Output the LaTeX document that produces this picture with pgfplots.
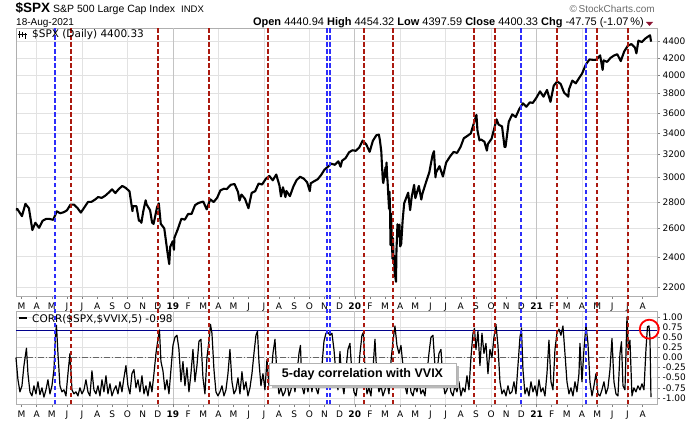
\documentclass[border=0pt]{standalone}
\usepackage{pgfplots}
\pgfplotsset{compat=1.18}
\usepackage{pgfplotstable}
\usepackage{fontspec}
\setmainfont{Liberation Sans}
\newfontfamily\dv{DejaVu Sans}
\definecolor{vred}{RGB}{170,25,15}
\definecolor{vblue}{RGB}{45,45,250}
\definecolor{navyl}{RGB}{0,0,140}
\definecolor{gridc}{RGB}{226,226,226}
\definecolor{yrgrid}{RGB}{195,195,195}
\definecolor{borderc}{RGB}{175,175,175}
\definecolor{hdrred}{RGB}{140,20,50}

\pgfplotstableread{
Y M D C
2018 2 16 2732
2018 2 23 2747
2018 3 2 2691
2018 3 9 2786
2018 3 16 2752
2018 3 23 2588
2018 3 29 2641
2018 4 6 2604
2018 4 13 2656
2018 4 20 2670
2018 4 27 2670
2018 5 4 2663
2018 5 11 2728
2018 5 18 2713
2018 5 25 2721
2018 6 1 2735
2018 6 8 2779
2018 6 15 2780
2018 6 22 2755
2018 6 29 2718
2018 7 6 2760
2018 7 13 2801
2018 7 20 2802
2018 7 27 2819
2018 8 3 2840
2018 8 10 2833
2018 8 17 2850
2018 8 24 2875
2018 8 31 2902
2018 9 7 2872
2018 9 14 2905
2018 9 21 2930
2018 9 28 2914
2018 10 5 2886
2018 10 11 2729
2018 10 12 2767
2018 10 19 2768
2018 10 24 2656
2018 10 26 2659
2018 10 29 2641
2018 11 2 2723
2018 11 7 2814
2018 11 9 2781
2018 11 16 2736
2018 11 20 2642
2018 11 23 2633
2018 11 30 2760
2018 12 3 2790
2018 12 7 2633
2018 12 14 2600
2018 12 21 2417
2018 12 24 2351
2018 12 26 2468
2018 12 31 2507
2019 1 3 2448
2019 1 4 2532
2019 1 11 2596
2019 1 18 2671
2019 1 25 2665
2019 2 1 2707
2019 2 8 2708
2019 2 15 2776
2019 2 22 2793
2019 3 1 2804
2019 3 8 2743
2019 3 15 2822
2019 3 22 2800
2019 3 29 2834
2019 4 5 2893
2019 4 12 2907
2019 4 18 2905
2019 4 26 2940
2019 5 3 2946
2019 5 10 2881
2019 5 13 2812
2019 5 17 2860
2019 5 24 2826
2019 5 31 2752
2019 6 7 2873
2019 6 14 2887
2019 6 21 2950
2019 6 28 2942
2019 7 5 2990
2019 7 12 3014
2019 7 19 2977
2019 7 26 3026
2019 8 2 2932
2019 8 5 2845
2019 8 9 2919
2019 8 14 2840
2019 8 16 2889
2019 8 23 2847
2019 8 30 2926
2019 9 6 2979
2019 9 13 3007
2019 9 20 2992
2019 9 27 2962
2019 10 2 2888
2019 10 4 2952
2019 10 11 2970
2019 10 18 2986
2019 10 25 3023
2019 11 1 3067
2019 11 8 3093
2019 11 15 3120
2019 11 22 3110
2019 11 29 3141
2019 12 3 3093
2019 12 6 3146
2019 12 13 3169
2019 12 20 3221
2019 12 27 3240
2020 1 3 3235
2020 1 10 3265
2020 1 17 3330
2020 1 24 3295
2020 1 31 3226
2020 2 7 3328
2020 2 14 3380
2020 2 19 3386
2020 2 21 3338
2020 2 24 3226
2020 2 25 3128
2020 2 27 2979
2020 2 28 2954
2020 3 2 3090
2020 3 3 3003
2020 3 4 3130
2020 3 5 3024
2020 3 6 2972
2020 3 9 2747
2020 3 10 2882
2020 3 11 2741
2020 3 12 2481
2020 3 13 2711
2020 3 16 2386
2020 3 17 2529
2020 3 18 2398
2020 3 19 2409
2020 3 20 2305
2020 3 23 2237
2020 3 24 2447
2020 3 26 2630
2020 3 27 2541
2020 3 30 2627
2020 4 1 2471
2020 4 3 2489
2020 4 6 2664
2020 4 9 2790
2020 4 17 2875
2020 4 21 2737
2020 4 24 2837
2020 4 29 2939
2020 5 1 2831
2020 5 8 2930
2020 5 13 2820
2020 5 15 2864
2020 5 22 2955
2020 5 29 3044
2020 6 5 3194
2020 6 8 3232
2020 6 11 3002
2020 6 12 3041
2020 6 19 3098
2020 6 26 3009
2020 7 2 3130
2020 7 10 3185
2020 7 17 3225
2020 7 24 3216
2020 7 31 3271
2020 8 7 3351
2020 8 14 3373
2020 8 21 3397
2020 8 28 3508
2020 9 2 3580
2020 9 4 3427
2020 9 8 3332
2020 9 11 3341
2020 9 18 3319
2020 9 23 3237
2020 9 25 3298
2020 10 2 3348
2020 10 9 3477
2020 10 12 3535
2020 10 16 3484
2020 10 23 3465
2020 10 28 3271
2020 10 30 3270
2020 11 6 3510
2020 11 13 3585
2020 11 20 3558
2020 11 27 3638
2020 12 4 3699
2020 12 11 3663
2020 12 18 3709
2020 12 24 3703
2020 12 31 3756
2021 1 8 3825
2021 1 15 3768
2021 1 22 3841
2021 1 29 3714
2021 2 5 3887
2021 2 12 3934
2021 2 19 3907
2021 2 26 3811
2021 3 4 3768
2021 3 5 3842
2021 3 12 3943
2021 3 19 3913
2021 3 26 3975
2021 4 1 4020
2021 4 9 4129
2021 4 16 4185
2021 4 23 4180
2021 4 30 4181
2021 5 7 4233
2021 5 12 4063
2021 5 14 4174
2021 5 21 4156
2021 5 28 4204
2021 6 4 4230
2021 6 11 4247
2021 6 18 4166
2021 6 25 4281
2021 7 2 4352
2021 7 9 4370
2021 7 16 4327
2021 7 19 4258
2021 7 23 4412
2021 7 30 4395
2021 8 6 4437
2021 8 13 4468
2021 8 16 4479
2021 8 18 4400
}\spx

\pgfplotstableread{
px v
16 0.00
18 -0.55
20 -0.85
22 -0.70
24 -0.20
26.5 0.23
28 -0.40
30 -0.85
32 -0.95
34 -0.70
36 -0.90
38 -0.60
40 -0.92
42 -0.75
44 -0.98
46 -0.80
48 -0.55
50 -0.90
52 -0.70
54 -0.30
55.5 0.55
56.5 0.80
58 0.10
60 -0.70
62 -0.85
64 -0.80
66 -0.95
68 -0.40
70 0.10
72 -0.80
74 -0.90
76 -0.85
78 -0.95
80 -0.75
82 -0.90
84 -0.80
86 -0.55
88 -0.85
90 -0.95
92 -0.33
94 -0.80
96 -0.90
98 -0.70
100 -0.95
102 -0.55
104 -0.85
106 -0.45
108 -0.90
110 -0.65
112 -0.95
114 -0.80
116 -0.70
118 -0.90
120 -0.60
122 -0.85
124 -0.50
126 -0.20
128 -0.70
130 -0.90
132 -0.40
134 -0.30
136 -0.75
138 -0.55
140 -0.85
142 -0.45
144 -0.90
146 -0.70
148 -0.95
150 -0.60
152 -0.85
154 -0.40
156 0.10
158 0.45
159.5 0.68
161 -0.10
163 -0.33
165 -0.80
167 -0.55
169 -0.90
171 -0.30
173 0.30
175 0.50
177 0.55
179 0.20
181 -0.60
183 -0.10
185 -0.70
187 -0.25
189 -0.85
191 -0.40
193 0.20
195 -0.60
197 -0.20
199 0.40
201 0.45
203 -0.50
205 -0.90
207 0.00
209 0.40
210.5 0.82
212 0.60
214 -0.30
216 -0.85
218 -0.95
220 -0.85
222 -0.70
224 -0.95
226 -0.80
228 -0.40
230 0.20
232 -0.60
234 -0.90
236 -0.80
238 -0.50
240 -0.90
242 -0.35
244 -0.80
246 -0.60
248 -0.95
250 -0.75
252 -0.40
254 0.10
256 0.55
257.5 0.65
259 -0.10
261 -0.70
263 -0.40
265 -0.80
267 -0.05
269 -0.70
271 -0.55
273 0.10
275 0.45
277 -0.40
279 -0.90
281 -0.75
283 -0.95
285 -0.85
287 -0.60
289 -0.95
291 -0.80
293 -0.50
295 -0.85
297 -0.40
299 0.10
300.5 0.30
302 -0.70
304 -0.90
306 -0.60
308 -0.85
310 -0.45
312 -0.85
314 -0.30
316 -0.75
318 -0.90
320 -0.60
322 -0.20
324 0.40
326 0.60
328 0.62
330 0.55
332 0.60
334 0.20
336 -0.40
338 -0.80
340 0.15
342 -0.60
344 -0.90
346 -0.30
348 0.20
350 0.35
352 -0.40
354 -0.85
356 -0.95
358 -0.60
360 0.10
362 0.55
363.5 0.62
365 -0.30
367 -0.90
369 -0.75
371 -0.95
373 -0.30
375 0.45
377 -0.50
379 -0.85
381 -0.70
383 -0.95
385 -0.80
387 -0.60
389 -0.90
391 -0.10
393 0.40
395 0.78
397 0.30
399 0.10
401 0.30
403 -0.20
405 -0.70
407 -0.90
409 -0.40
411 -0.85
413 -0.95
415 -0.70
417 -0.85
419 -0.60
421 -0.90
423 -0.80
425 -0.95
427 -0.40
429 0.10
431 0.50
433 0.55
435 -0.20
437 -0.40
439 0.10
441 0.20
443 -0.60
445 -0.90
447 -0.80
449 -0.55
451 -0.85
453 -0.95
455 -0.70
457 -0.85
459 -0.60
461 -0.95
463 -0.75
465 -0.85
467 -0.45
469 -0.80
471 0.00
473 0.60
474.5 0.72
476 0.20
478 0.65
480 -0.20
482 0.60
484 0.10
486 0.35
488 -0.40
490 0.20
492 0.00
494 0.50
496 0.82
498 0.30
500 -0.60
502 -0.90
504 -0.80
506 -0.95
508 -0.70
510 -0.90
512 -0.85
514 -0.60
516 -0.90
518 -0.20
520 0.50
521.5 0.73
523 -0.30
525 -0.90
527 -0.75
529 -0.95
531 -0.60
533 -0.85
535 -0.70
537 -0.95
539 -0.55
541 -0.85
543 -0.75
545 -0.95
547 -0.40
549 0.43
551 -0.60
553 -0.80
555 0.20
557 0.60
559 0.70
561 0.55
563 0.78
565 0.10
567 -0.60
569 -0.90
571 -0.75
573 -0.95
575 -0.60
577 -0.85
579 -0.40
580 0.35
582 -0.60
584 0.20
586 0.80
588 0.35
590 -0.60
592 -0.95
594 -0.70
596 -0.40
598 -0.90
600 -0.95
602 -0.80
604 -0.60
606 -0.90
608 -0.75
610 -0.30
612 0.47
614 -0.60
616 -0.90
618 -0.95
620 0.10
621.5 0.39
623 -0.70
625 -0.80
627 1.00
628.5 0.20
630 0.43
632 -0.95
634 -0.75
636 -0.85
638 -0.70
640 -0.80
642 -0.65
644 -0.80
646 0.20
647.5 0.76
649 0.78
650 0.50
651 -0.98
}\corr

\pgfplotsset{
  panel/.style={
    scale only axis, width=641pt,
    xmin=1.64, xmax=43.95,
    axis line style={borderc},
    tick align=outside, xtick pos=bottom, ytick pos=right, yticklabel pos=right,
    major tick length=3pt, tick style={gray, line width=0.5pt},
    xtick={2,...,43},
    xticklabels={M,A,M,J,J,A,S,O,N,D,\textbf{19},F,M,A,M,J,J,A,S,O,N,D,\textbf{20},F,M,A,M,J,J,A,S,O,N,D,\textbf{21},F,M,A,M,J,J,A},
    minor xtick={3,6,9,15,18,21,27,30,33,39,42},
    minor tick length=0pt,
    xminorgrids, minor grid style={gridc, line width=0.6pt},
    extra x ticks={12,24,36}, extra x tick labels={},
    extra x tick style={grid=major, major grid style={yrgrid, line width=0.7pt}},
    ymajorgrids, major grid style={gridc, line width=0.6pt},
    ticklabel style={font=\dv\fontsize{9}{10}\selectfont},
    yticklabel style={xshift=-1pt},
  }
}

\begin{document}
\begin{tikzpicture}
\path[use as bounding box] (0pt,0pt) rectangle (700pt,421pt);
\fill[white] (0pt,0pt) rectangle (700pt,421pt);

% ---------- top panel ----------
\begin{axis}[panel, at={(16pt,125pt)}, anchor=south west, height=268pt,
  ymode=log, ymin=2149, ymax=4573,
  ytick={2200,2400,2600,2800,3000,3200,3400,3600,3800,4000,4200,4400},
  yticklabels={2200,2400,2600,2800,3000,3200,3400,3600,3800,4000,4200,4400},
  minor y tick num=0]
\addplot[black, line width=2.1pt, line join=round] table[x expr={12*(\thisrow{Y}-2018)+\thisrow{M}-1+(\thisrow{D}-1)/30.5}, y=C] {\spx};
\end{axis}

% ---------- bottom panel ----------
\begin{axis}[panel, at={(16pt,17pt)}, anchor=south west, height=93pt,
  ymin=-1.15, ymax=1.15, clip=false,
  ytick={-1,-0.75,-0.5,-0.25,0,0.25,0.5,0.75,1},
  yticklabels={-1.00,-0.75,-0.50,-0.25,0.00,0.25,0.50,0.75,1.00}]
\draw[gray!80!black, line width=0.6pt, dash pattern=on 6pt off 2pt on 1pt off 2pt] (axis cs:1.64,0) -- (axis cs:43.95,0);
\draw[navyl, line width=0.9pt] (axis cs:1.64,0.68) -- (axis cs:43.95,0.68);
\addplot[black, line width=1.2pt, line join=round] table[x expr={(\thisrow{px}+8.8)/15.15}, y=v] {\corr};
\pgfplotsinvokeforeach{5.25,11.01,14.38,18.27,24.61,26.54,31.87,33.25,37.33,39.97,42.04}{
  \draw[vred, line width=1.7pt, dash pattern=on 4.5pt off 2.5pt] (axis cs:#1,-1.15) -- ++(0pt,376pt);
}
\pgfplotsinvokeforeach{4.21,22.15,22.37,34.95,39.26}{
  \draw[vblue, line width=1.7pt, dash pattern=on 4.5pt off 2.5pt] (axis cs:#1,-1.15) -- ++(0pt,376pt);
}
\draw[red, line width=1.8pt] (axis cs:43.44,0.70) circle[radius=9.5pt];
\end{axis}

% ---------- header texts ----------
\node[anchor=base west, inner sep=0pt, font=\bfseries\fontsize{13.5}{14}\selectfont] at (15.5pt,408pt) {\$SPX};
\node[anchor=base west, inner sep=0pt, font=\fontsize{10.5}{12}\selectfont] at (53pt,408pt) {S\&P 500 Large Cap Index};
\node[anchor=base west, inner sep=0pt, font=\fontsize{9.5}{11}\selectfont] at (181pt,408pt) {INDX};
\node[anchor=base west, inner sep=0pt, font=\fontsize{10}{11}\selectfont] at (16pt,395pt) {18-Aug-2021};
\node[anchor=base east, inner sep=0pt, font=\fontsize{10}{11}\selectfont, text=gray!85!black] at (655pt,408pt) {\textcopyright\,StockCharts.com};
\node[anchor=base east, inner sep=0pt, font=\fontsize{11}{12}\selectfont] at (644pt,395pt)
  {\textbf{Open} 4440.94 \textbf{High} 4454.32 \textbf{Low} 4397.59 \textbf{Close} 4400.33 \textbf{Chg} -47.75 (-1.07\,\%)};
\fill[hdrred] (646pt,399pt) -- (653pt,399pt) -- (649.5pt,395pt) -- cycle;

% panel legends
\draw[black, line width=1pt] (19pt,383pt) -- (19pt,390pt);
\draw[black, line width=1pt] (22pt,384pt) -- (22pt,389pt);
\draw[black, line width=1pt] (25pt,382pt) -- (25pt,388pt);
\draw[black, line width=0.8pt] (18pt,387pt) -- (27pt,387pt);
\node[anchor=base west, inner sep=0pt, font=\dv\fontsize{10.5}{12}\selectfont] at (32pt,383pt) {\$SPX (Daily) 4400.33};
\draw[black, line width=2pt] (19pt,103pt) -- (27pt,103pt);
\node[anchor=base west, inner sep=0pt, font=\dv\fontsize{10.5}{12}\selectfont] at (32pt,99pt) {CORR(\$SPX,\$VVIX,5) -0.98};

% annotation box
\fill[gray!55] (272pt,33pt) rectangle (459pt,55pt);
\node[draw=gray!60, line width=0.6pt, fill=white, minimum width=187pt, minimum height=22pt, inner sep=0pt,
      font=\bfseries\fontsize{12.5}{14}\selectfont] at (362.5pt,47pt) {5-day correlation with VVIX};
\end{tikzpicture}
\end{document}
